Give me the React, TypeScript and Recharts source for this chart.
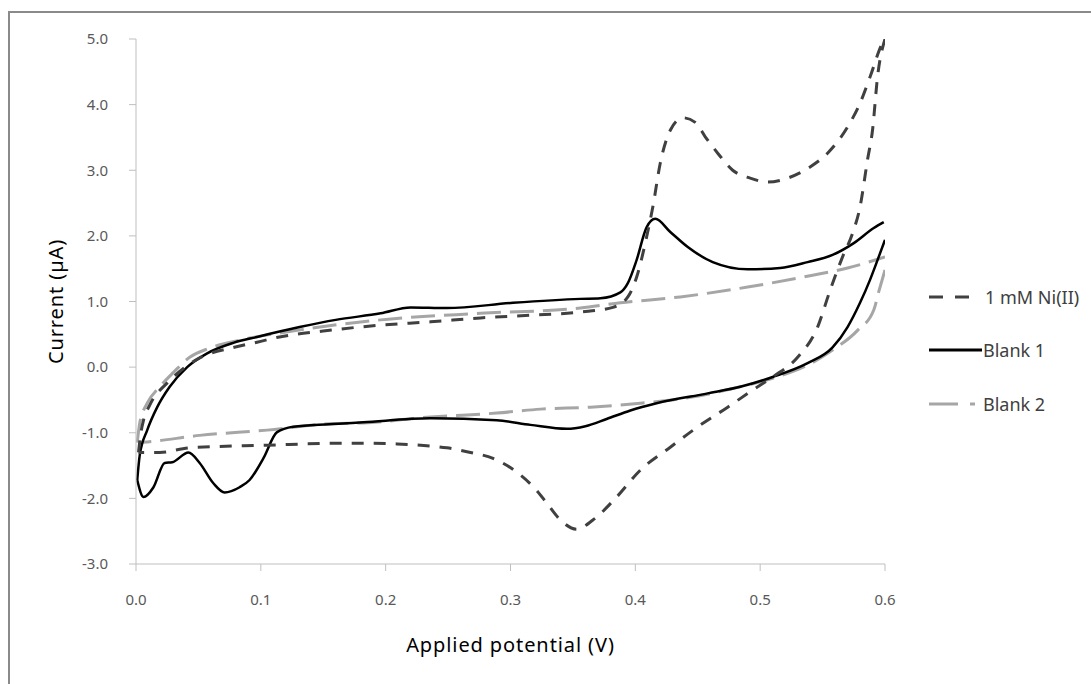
import React from 'react';
import { LineChart, Line, XAxis, YAxis } from 'recharts';

type P = { x: number; y: number };
const toPts = (a: number[][]): P[] => a.map(([x, y]) => ({ x, y }));

// 1 mM Ni(II): forward (anodic) and reverse (cathodic) scans
const niForward = toPts([
  [0.002, -1.3], [0.004, -0.99], [0.006, -0.81], [0.011, -0.58], [0.025, -0.24], [0.038, -0.02],
  [0.051, 0.14], [0.078, 0.3], [0.097, 0.38], [0.115, 0.46], [0.15, 0.55], [0.196, 0.64],
  [0.236, 0.69], [0.276, 0.75], [0.316, 0.79], [0.356, 0.84], [0.382, 0.91], [0.394, 1.07],
  [0.401, 1.37], [0.409, 1.98], [0.414, 2.44], [0.42, 3.11], [0.428, 3.61], [0.438, 3.8],
  [0.448, 3.73], [0.456, 3.51], [0.466, 3.26], [0.478, 3.0], [0.492, 2.88], [0.506, 2.82],
  [0.522, 2.88], [0.54, 3.05], [0.554, 3.26], [0.57, 3.66], [0.58, 4.02], [0.588, 4.42],
  [0.598, 4.94], [0.6, 5.0],
]);
const niReverse = toPts([
  [0.6, 5.0], [0.594, 4.42], [0.59, 3.61], [0.586, 3.16], [0.58, 2.44], [0.574, 2.04],
  [0.566, 1.68], [0.556, 1.17], [0.546, 0.61], [0.53, 0.15], [0.51, -0.15], [0.494, -0.35],
  [0.474, -0.61], [0.45, -0.91], [0.428, -1.22], [0.404, -1.57], [0.385, -1.98], [0.366, -2.33],
  [0.353, -2.47], [0.34, -2.33], [0.329, -2.07], [0.321, -1.88], [0.305, -1.6], [0.286, -1.39],
  [0.268, -1.3], [0.249, -1.23], [0.228, -1.19], [0.209, -1.17], [0.185, -1.16], [0.163, -1.16],
  [0.105, -1.19], [0.043, -1.23], [0.019, -1.3], [0.002, -1.3],
]);

// Blank 1
const blank1Forward = toPts([
  [0.001, -1.72], [0.003, -1.34], [0.009, -0.96], [0.017, -0.61], [0.027, -0.3], [0.041, 0.0],
  [0.057, 0.21], [0.078, 0.37], [0.097, 0.46], [0.131, 0.61], [0.16, 0.72], [0.196, 0.82],
  [0.22, 0.91], [0.249, 0.9], [0.302, 0.98], [0.356, 1.04], [0.372, 1.05], [0.388, 1.14],
  [0.394, 1.28], [0.401, 1.63], [0.409, 2.13], [0.416, 2.26], [0.428, 2.06], [0.442, 1.83],
  [0.462, 1.6], [0.49, 1.49], [0.516, 1.51], [0.538, 1.6], [0.558, 1.71], [0.575, 1.89],
  [0.591, 2.12], [0.599, 2.21],
]);
const blank1Reverse = toPts([
  [0.6, 1.94], [0.594, 1.63], [0.588, 1.33], [0.58, 0.98], [0.57, 0.61], [0.558, 0.3],
  [0.538, 0.06], [0.51, -0.15], [0.484, -0.3], [0.458, -0.4], [0.417, -0.55], [0.396, -0.66],
  [0.377, -0.79], [0.36, -0.9], [0.345, -0.94], [0.316, -0.88], [0.289, -0.81], [0.236, -0.78],
  [0.182, -0.84], [0.155, -0.87], [0.126, -0.91], [0.113, -0.99], [0.102, -1.39], [0.091, -1.72],
  [0.083, -1.83], [0.071, -1.91], [0.062, -1.77], [0.051, -1.46], [0.042, -1.3], [0.029, -1.45],
  [0.023, -1.46], [0.014, -1.83], [0.006, -1.98], [0.001, -1.72],
]);

// Blank 2
const blank2Forward = toPts([
  [0.001, -1.15], [0.003, -0.85], [0.009, -0.55], [0.019, -0.3], [0.03, -0.08], [0.043, 0.15],
  [0.059, 0.29], [0.083, 0.41], [0.115, 0.52], [0.196, 0.72], [0.276, 0.82], [0.356, 0.9],
  [0.388, 0.98], [0.436, 1.07], [0.49, 1.22], [0.542, 1.4], [0.57, 1.51], [0.6, 1.68],
]);
const blank2Reverse = toPts([
  [0.6, 1.48], [0.595, 1.15], [0.591, 0.87], [0.578, 0.56], [0.558, 0.26], [0.538, 0.03],
  [0.51, -0.17], [0.484, -0.3], [0.444, -0.46], [0.404, -0.55], [0.364, -0.61], [0.324, -0.64],
  [0.289, -0.7], [0.236, -0.76], [0.182, -0.85], [0.158, -0.86], [0.105, -0.96], [0.051, -1.04],
  [0.009, -1.14], [0.002, -1.15],
]);

const xTicks = [0, 0.1, 0.2, 0.3, 0.4, 0.5, 0.6];
const yTicks = [-3, -2, -1, 0, 1, 2, 3, 4, 5];
const seriesNames = ['1 mM Ni(II)', 'Blank 1', 'Blank 2'];

const FONT = '"Noto Sans", sans-serif';
const NI_COLOR = '#404040';
const B1_COLOR = '#000000';
const B2_COLOR = '#a6a6a6';
const AXIS_COLOR = '#bfbfbf';

const XTitle = (props: any) => {
  const vb = props.viewBox || {};
  return (
    <text x={vb.x + vb.width / 2} y={vb.y + 88} textAnchor="middle" fontSize={20} letterSpacing={0.9} fill="#000" fontFamily={FONT}>
      Applied potential (V)
    </text>
  );
};

const YTitle = (props: any) => {
  const vb = props.viewBox || {};
  const cy = vb.y + vb.height / 2;
  return (
    <text transform={`translate(63, ${cy}) rotate(-90)`} textAnchor="middle" fontSize={20} letterSpacing={0.9} fill="#000" fontFamily={FONT}>
      Current (µA)
    </text>
  );
};

export default function App() {
  const common = { dataKey: 'y', dot: false, activeDot: false, isAnimationActive: false, type: 'monotone' as const };
  return (
    <div style={{ position: 'absolute', left: 0, top: 0, width: 1091, height: 684, background: '#fff', overflow: 'hidden', fontFamily: FONT }}>
      <div style={{ position: 'absolute', left: 8, top: 11, width: 1100, height: 700, borderLeft: '2px solid #8a8a8a', borderTop: '2px solid #8a8a8a' }} />
      <LineChart width={1091} height={684} margin={{ top: 39, right: 206, bottom: 25, left: 76 }} style={{ position: 'absolute', left: 0, top: 0 }}>
        <XAxis
          dataKey="x"
          type="number"
          domain={[0, 0.6]}
          ticks={xTicks}
          allowDataOverflow
          height={95}
          tickSize={7}
          tickMargin={23}
          tickFormatter={(v: number) => v.toFixed(1)}
          tick={{ fill: '#595959', fontSize: 15, fontFamily: FONT }}
          tickLine={{ stroke: AXIS_COLOR }}
          axisLine={{ stroke: AXIS_COLOR }}
          label={<XTitle />}
        />
        <YAxis
          dataKey="y"
          type="number"
          domain={[-3, 5]}
          ticks={yTicks}
          allowDataOverflow
          width={60}
          tickSize={7}
          tickMargin={21}
          tickFormatter={(v: number) => v.toFixed(1)}
          tick={{ fill: '#595959', fontSize: 15, fontFamily: FONT }}
          tickLine={{ stroke: AXIS_COLOR }}
          axisLine={{ stroke: AXIS_COLOR }}
          label={<YTitle />}
        />
        <Line {...common} data={blank2Forward} name={seriesNames[2]} stroke={B2_COLOR} strokeWidth={3} strokeDasharray="24 9" />
        <Line {...common} data={blank2Reverse} name={seriesNames[2] + ' r'} stroke={B2_COLOR} strokeWidth={3} strokeDasharray="24 9" />
        <Line {...common} data={blank1Forward} name={seriesNames[1]} stroke={B1_COLOR} strokeWidth={2.5} />
        <Line {...common} data={blank1Reverse} name={seriesNames[1] + ' r'} stroke={B1_COLOR} strokeWidth={2.5} />
        <Line {...common} data={niForward} name={seriesNames[0]} stroke={NI_COLOR} strokeWidth={3} strokeDasharray="12 10" />
        <Line {...common} data={niReverse} name={seriesNames[0] + ' r'} stroke={NI_COLOR} strokeWidth={3} strokeDasharray="12 10" />
      </LineChart>
      <svg style={{ position: 'absolute', left: 920, top: 270 }} width={171} height={160}>
        <line x1={9} y1={27} x2={49} y2={27} stroke={NI_COLOR} strokeWidth={3} strokeDasharray="14 12" />
        <text x={65} y={27} dominantBaseline="central" fontSize={18} fill="#404040" fontFamily={FONT}>{seriesNames[0]}</text>
        <line x1={9} y1={80} x2={62} y2={80} stroke={B1_COLOR} strokeWidth={3} />
        <text x={63} y={80} dominantBaseline="central" fontSize={18} fill="#404040" fontFamily={FONT}>{seriesNames[1]}</text>
        <line x1={9} y1={134} x2={55} y2={134} stroke={B2_COLOR} strokeWidth={3} strokeDasharray="29 12" />
        <text x={63} y={134} dominantBaseline="central" fontSize={18} fill="#404040" fontFamily={FONT}>{seriesNames[2]}</text>
      </svg>
    </div>
  );
}
